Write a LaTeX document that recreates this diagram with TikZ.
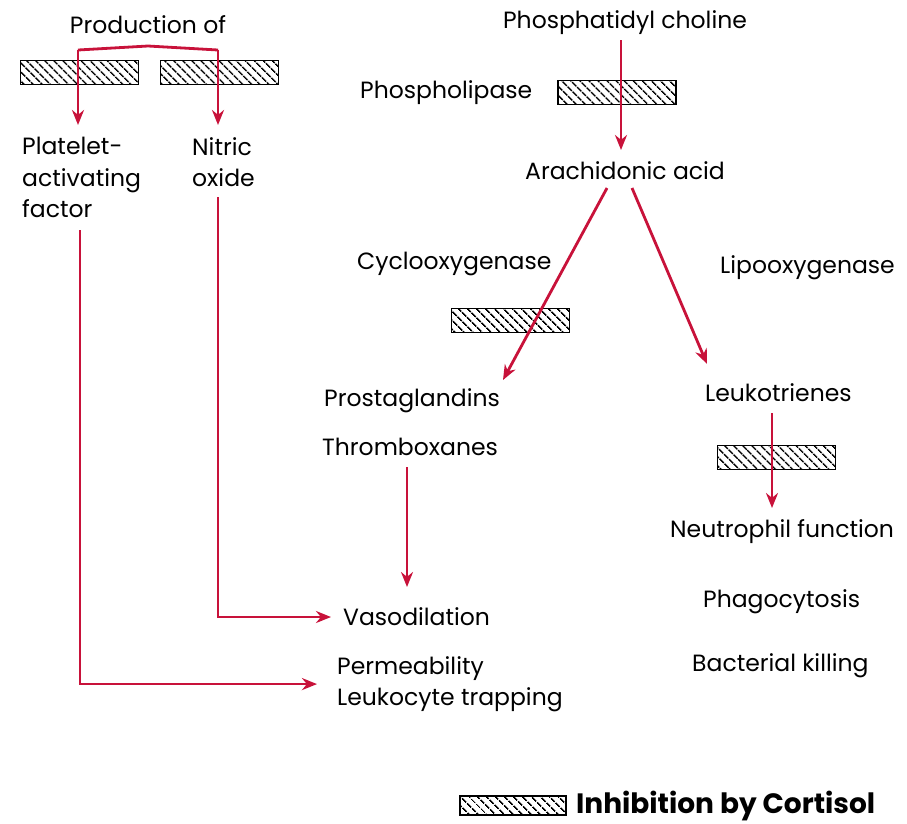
\documentclass[tikz,border=0pt]{standalone}
\usepackage{fontspec}
\setmainfont{Poppins}
\usetikzlibrary{arrows.meta,patterns.meta}
\definecolor{arr}{RGB}{200,18,58}
\tikzset{
  lbl/.style={font=\fontsize{23.5}{31.5}\selectfont, inner sep=0pt},
  hatch/.style={draw=black, line width=1.8pt, minimum width=118pt, minimum height=24pt, inner sep=0pt,
    pattern={Lines[angle=-45,distance=6.5pt,line width=1.6pt]}},
  flow/.style={draw=arr, line width=2.8pt, -{Stealth[length=15pt,width=12pt]}},
  plain/.style={draw=arr, line width=2.8pt}
}
\begin{document}
\begin{tikzpicture}[x=1pt,y=-1pt]
\useasboundingbox (0,0) rectangle (907,823);
% left part
\node[lbl] (prod) at (148,25) {Production of};
\node[hatch] (hb1) at (79.5,72.5) {};
\node[hatch] (hb2) at (219.5,72.5) {};
\node[lbl, align=left, anchor=north west] (paf) at (22,137) {Platelet-\\activating\\factor};
\node[lbl, align=left, anchor=north west] (no) at (192,137) {Nitric\\oxide};
\coordinate (ptop) at (148,46);
\coordinate (pl) at (78,50);
\coordinate (pr) at (218,50);
\draw[plain, line join=round] (pl) -- (ptop) -- (pr);
\draw[flow] (pl) -- (78,125);
\draw[flow] (pr) -- (218,125);
\node[lbl, anchor=west] (vaso) at (343,617) {Vasodilation};
\node[lbl, align=left, anchor=north west] (perm) at (337,656) {Permeability\\Leukocyte trapping};
\draw[flow] (218,197) |- ([xshift=-12pt]vaso.west);
\draw[flow] (80,230) |- ([xshift=-20pt]perm.west);
% right part
\node[lbl] (pc) at (625,23) {Phosphatidyl choline};
\node[lbl, anchor=west] (plase) at (360,93) {Phospholipase};
\node[hatch] (hb3) at (617,92.5) {};
\node[lbl] (aa) at (625,171) {Arachidonic acid};
\draw[flow] (621,40) -- (621,150);
\node[lbl, anchor=west] (cox) at (357,264) {Cyclooxygenase};
\node[lbl, anchor=west] (lox) at (720,268) {Lipooxygenase};
\node[hatch] (hb4) at (510.5,320.5) {};
\node[lbl, anchor=west] (pg) at (324,401) {Prostaglandins};
\node[lbl, anchor=west] (tx) at (322,447) {Thromboxanes};
\draw[flow] (607,188) -- (503,380);
\draw[flow] (632,188) -- (707,364);
\draw[flow] (407,467) -- (407,587);
\node[lbl, anchor=west] (lt) at (705,393) {Leukotrienes};
\node[hatch] (hb5) at (776.5,457.5) {};
\draw[flow] (772,413) -- (772,508);
\node[lbl, anchor=west] (nf) at (670,532) {Neutrophil function};
\node[lbl, anchor=west] (ph) at (703,602) {Phagocytosis};
\node[lbl, anchor=west] (bk) at (692,666) {Bacterial killing};
% legend
\node[hatch, minimum width=106pt, minimum height=19pt] (leg) at (513,805.5) {};
\node[lbl, font=\fontsize{28}{32}\selectfont\bfseries, anchor=west] (legt) at (576,806) {Inhibition by Cortisol};
\end{tikzpicture}
\end{document}
